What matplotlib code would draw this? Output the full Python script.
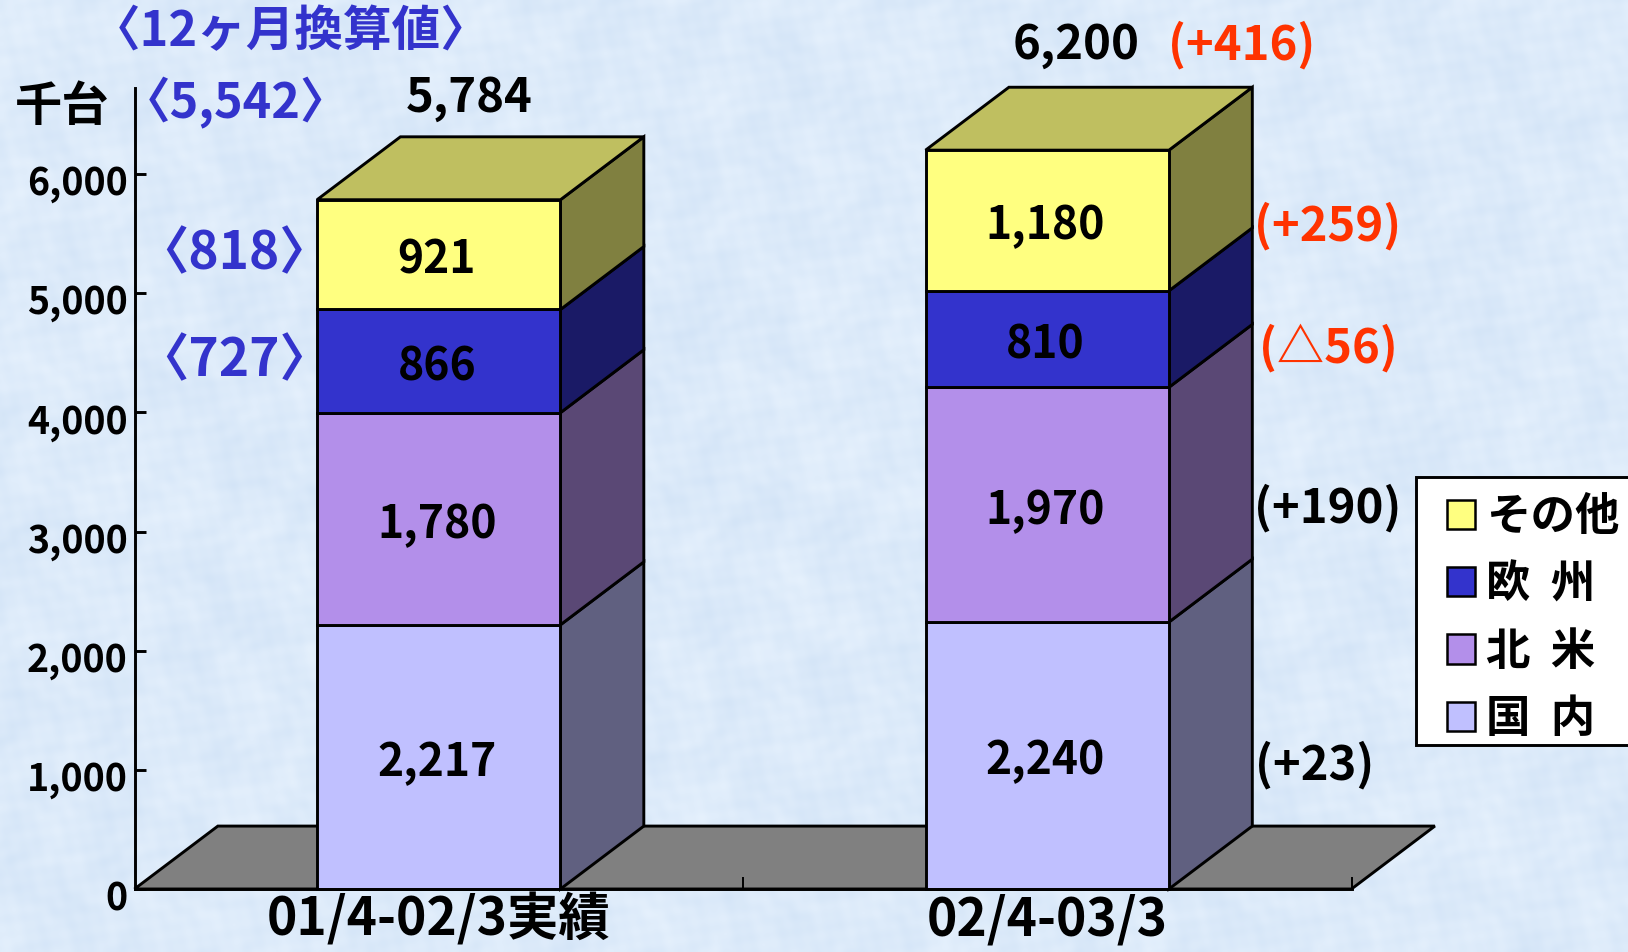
import numpy as np
import matplotlib
matplotlib.use("Agg")
import matplotlib.pyplot as plt
from matplotlib.patches import Patch, Rectangle
from matplotlib.colors import to_rgb
from matplotlib.transforms import ScaledTranslation

plt.rcParams['font.family'] = ['Noto Sans CJK JP', 'DejaVu Sans']

#chart values
periods = ["01/4-02/3実績", "02/4-03/3"]
domestic = [2217, 2240]
north_america = [1780, 1970]
europe = [866, 810]
others = [921, 1180]
totals = [5784, 6200]
y_ticks = [0, 1000, 2000, 3000, 4000, 5000, 6000]

series_names = ["国  内", "北  米", "欧  州", "その他"]
series_colors = ["#C0C0FF", "#B38FEA", "#3333CC", "#FFFF80"]

#text notes around the bars
blue_notes = ["〈12ヶ月換算値〉", "〈5,542〉", "〈818〉", "〈727〉"]
change_total = "(+416)"
change_notes = ["(+23)", "(+190)", "(△56)", "(+259)"]
change_colors = ["black", "black", "#FF3300", "#FF3300"]

W, H = 1628, 952
BLUE = "#3333CC"
bar_w = 0.40
depth_x = 0.137
depth_y = 528
lw = 2.1
WEIGHT = "bold"

fig = plt.figure(figsize=(W / 100, H / 100), dpi=100)


def px_text(x, y, s, size, color="black", **kw):
    #place a note by its centre in image pixels
    fig.text(x / W, 1 - y / H, s, fontsize=size, color=color, ha="center", va="center", fontweight=WEIGHT, **kw)


def shade(color, k):
    return tuple(c * k for c in to_rgb(color))


#mottled pale blue background
bg = fig.add_axes([0, 0, 1, 1], zorder=-1)
yy, xx = np.mgrid[0:H:2, 0:W:2]
tex = (np.sin(xx / 37.0 + np.sin(yy / 41.0) * 2.1) * np.sin(yy / 53.0 + np.sin(xx / 23.0) * 1.7)
       + np.sin(xx / 11.0 + np.sin(yy / 17.0) * 3.0) * np.sin(yy / 13.0 + np.sin(xx / 19.0) * 2.3) * 0.8
       + np.sin(xx / 4.3 + yy / 6.1) * np.sin(xx / 5.7 - yy / 3.9) * 0.5)
base = np.array([0.865, 0.92, 0.98])
img = np.clip(base[None, None, :] + tex[:, :, None] * np.array([0.016, 0.011, 0.005]), 0, 1)
bg.imshow(img, aspect="auto", extent=(0, 1, 0, 1), interpolation="bilinear")
bg.axis("off")

ax = fig.add_axes([134.5 / W, (H - 889) / H, 1217 / W, 801 / H])
ax.patch.set_visible(False)
ax.set_xlim(0, 2)
ax.set_ylim(0, 801 / 715 * 6000)

#floor
ax.fill([0, 2, 2 + depth_x, depth_x], [0, 0, depth_y, depth_y], facecolor="#808080", edgecolor="black",
        linewidth=lw, clip_on=False, zorder=1)

#stacked boxes
centers = [0.5, 1.5]
stack = [domestic, north_america, europe, others]
for i, c in enumerate(centers):
    left = c - bar_w / 2
    right = c + bar_w / 2
    bottom = 0
    for vals, col in zip(stack, series_colors):
        v = vals[i]
        ax.fill([right, right + depth_x, right + depth_x, right],
                [bottom, bottom + depth_y, bottom + v + depth_y, bottom + v],
                facecolor=shade(col, 0.5), edgecolor="black", linewidth=lw, clip_on=False, zorder=2)
        ax.bar(c, v, bar_w, bottom=bottom, color=col, edgecolor="black", linewidth=lw, clip_on=False, zorder=3)
        ax.text(c - 0.003, bottom + v / 2 - 50, f"{v:,}", ha="center", va="center", fontsize=32,
                fontweight=WEIGHT, zorder=4)
        bottom += v
    ax.fill([left, right, right + depth_x, left + depth_x],
            [bottom, bottom, bottom + depth_y, bottom + depth_y],
            facecolor=shade(series_colors[-1], 0.75), edgecolor="black", linewidth=lw, clip_on=False, zorder=2)

#axes
for s in ["top", "right"]:
    ax.spines[s].set_visible(False)
for s in ["left", "bottom"]:
    ax.spines[s].set_linewidth(lw)
    ax.spines[s].set_zorder(5)
ax.set_yticks(y_ticks)
ax.set_yticklabels([f"{v:,}" for v in y_ticks], fontsize=27, fontweight=WEIGHT)
ax.tick_params(axis="y", direction="in", length=8, width=lw, pad=5)
for lab in ax.get_yticklabels():
    lab.set_transform(lab.get_transform() + ScaledTranslation(0, -4 / 72, fig.dpi_scale_trans))
ax.set_xticks([1, 2])
ax.set_xticklabels([])
ax.tick_params(axis="x", which="major", direction="in", length=9, width=1.4)
ax.set_xticks(centers, minor=True)
ax.set_xticklabels(periods, minor=True, fontsize=37, fontweight=WEIGHT)
ax.tick_params(axis="x", which="minor", length=0, pad=3)

#notes
px_text(291, 32, blue_notes[0], 35, BLUE)
px_text(236, 103, blue_notes[1], 35, BLUE)
px_text(234, 254, blue_notes[2], 37, BLUE)
px_text(234, 361, blue_notes[3], 37, BLUE)
px_text(62, 107, "千台", 34)
px_text(469, 98, f"{totals[0]:,}", 34)
px_text(1076, 45, f"{totals[1]:,}", 34)
px_text(1242, 45, change_total, 34, "#FF3300")
px_text(1328, 226, change_notes[3], 34, change_colors[3])
px_text(1328, 348, change_notes[2], 34, change_colors[2])
px_text(1328, 508, change_notes[1], 34, change_colors[1])
px_text(1315, 765, change_notes[0], 34, change_colors[0])

#legend box runs off the right edge like the source
fig.add_artist(Rectangle((1416 / W, 1 - 745 / H), 240 / W, 268 / H, transform=fig.transFigure,
                         facecolor="white", edgecolor="black", linewidth=lw, zorder=6))
handles = [Patch(facecolor=c, edgecolor="black", linewidth=1.8) for c in series_colors[::-1]]
leg = fig.legend(handles, series_names[::-1], loc="upper left", bbox_to_anchor=(1447 / W, 1 - 494 / H),
                 frameon=False, handlelength=0.63, handleheight=0.63, handletextpad=0.25, labelspacing=0.48,
                 borderpad=0, borderaxespad=0, prop={"size": 32, "weight": WEIGHT})
leg.set_zorder(7)

fig.savefig("out.png", dpi=100)
